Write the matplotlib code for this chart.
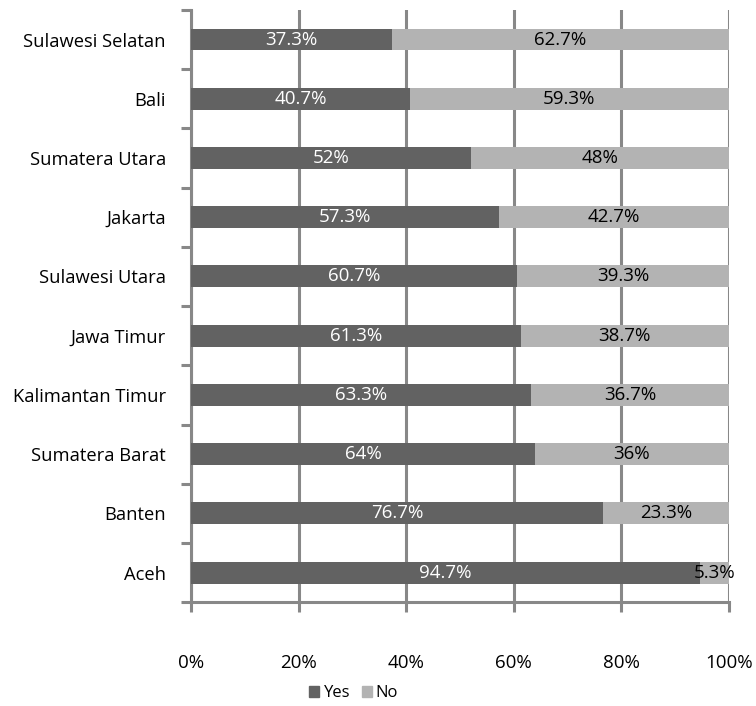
import matplotlib
matplotlib.use("Agg")
import matplotlib.pyplot as plt
from matplotlib.patches import Patch

provinces = ["Aceh", "Banten", "Sumatera Barat", "Kalimantan Timur", "Jawa Timur",
             "Sulawesi Utara", "Jakarta", "Sumatera Utara", "Bali", "Sulawesi Selatan"]
yes_vals = [94.7, 76.7, 64, 63.3, 61.3, 60.7, 57.3, 52, 40.7, 37.3]
no_vals = [5.3, 23.3, 36, 36.7, 38.7, 39.3, 42.7, 48, 59.3, 62.7]
x_ticks = [0, 20, 40, 60, 80, 100]

yes_color = "#626262"
no_color = "#b3b3b3"
axis_color = "#888888"

plt.rcParams["font.family"] = ["Open Sans", "DejaVu Sans"]

fig = plt.figure(figsize=(7.56, 7.06), dpi=100)
ax = fig.add_axes([0.2526, 0.147, 0.964 - 0.2526, 0.986 - 0.147])

pos = list(range(len(provinces)))
h = 0.37
ax.barh(pos, yes_vals, height=h, color=yes_color, zorder=3, label="Yes")
ax.barh(pos, no_vals, left=yes_vals, height=h, color=no_color, zorder=3, label="No")


def fmt(v):
    return f"{v:g}%"


for p, y, n in zip(pos, yes_vals, no_vals):
    ax.text(y / 2, p, fmt(y), ha="center", va="center", color="white",
            fontsize=13.5, zorder=4)
    ax.text(y + n / 2, p, fmt(n), ha="center", va="center", color="black",
            fontsize=13.5, zorder=4, clip_on=False)

ax.set_xlim(0, 100)
ax.set_ylim(-0.5, len(provinces) - 0.5)
ax.set_xticks(x_ticks)
ax.set_xticklabels([f"{t}%" for t in x_ticks], fontsize=13.5)
ax.set_yticks(pos)
ax.set_yticklabels(provinces, fontsize=13.2)
ax.tick_params(axis="y", length=0, pad=18)
ax.set_yticks([p - 0.5 for p in range(len(provinces) + 1)], minor=True)
ax.tick_params(axis="y", which="minor", length=7, width=2.2, color=axis_color)
ax.tick_params(axis="x", length=7, width=2.2, color=axis_color, pad=30)

ax.xaxis.grid(True, color=axis_color, linewidth=2.2, zorder=0)
for s in ["top", "right"]:
    ax.spines[s].set_visible(False)
for s in ["left", "bottom"]:
    ax.spines[s].set_color(axis_color)
    ax.spines[s].set_linewidth(2.2)
ax.set_axisbelow(True)

handles = [Patch(color=yes_color, label="Yes"), Patch(color=no_color, label="No")]
fig.legend(handles=handles, loc="center", bbox_to_anchor=(0.468, 0.018), ncol=2,
           frameon=False, fontsize=12, handlelength=0.6, handleheight=0.6,
           handletextpad=0.25, columnspacing=0.7)

fig.savefig("out.png", dpi=100)
